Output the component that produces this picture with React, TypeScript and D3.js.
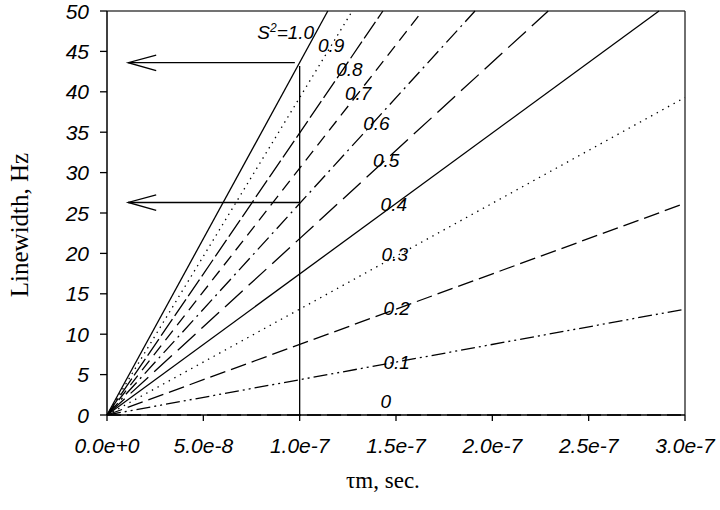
import React from "react";
import * as d3 from "d3";

const width = 720;
const height = 510;
const margin = { top: 11, right: 35, bottom: 95, left: 107 };

// order parameter values, one line per value
const orderParams = ["1.0", "0.9", "0.8", "0.7", "0.6", "0.5", "0.4", "0.3", "0.2", "0.1", "0"];
// where each line leaves the plot box (tau_m in s, linewidth in Hz); all start at the origin
const endTau = [1.146e-7, 1.273e-7, 1.432e-7, 1.637e-7, 1.91e-7, 2.29e-7, 2.865e-7, 3.0e-7, 3.0e-7, 3.0e-7, 3.0e-7];
const endWidth = [50, 50, 50, 50, 50, 50, 50, 39.3, 26.2, 13.1, 0];
const dashes = ["", "1.4,4.6", "20,4", "12,7", "16,5,2,5", "24,8", "", "1.4,5", "16,6", "14,4,2,4,2,4", "14,6"];

// label anchors (data units)
const labelTau = [0.78e-7, 1.095e-7, 1.19e-7, 1.235e-7, 1.33e-7, 1.38e-7, 1.42e-7, 1.425e-7, 1.435e-7, 1.435e-7, 1.42e-7];
const labelWidth = [46.5, 44.9, 42.0, 39.0, 35.3, 30.7, 25.2, 19.1, 12.4, 5.7, 0.9];

const xTicks = [0, 5e-8, 1e-7, 1.5e-7, 2e-7, 2.5e-7, 3e-7];
const xTickLabels = ["0.0e+0", "5.0e-8", "1.0e-7", "1.5e-7", "2.0e-7", "2.5e-7", "3.0e-7"];
const yTicks = [0, 5, 10, 15, 20, 25, 30, 35, 40, 45, 50];

// read-off guide at tau_m = 1e-7
const guideTau = 1e-7;
const guideTop = 43.2;
const arrowLevels = [43.6, 26.3];
const arrowEnds = [0.975e-7, 1e-7];
const arrowTipTau = 0.11e-7;

const x = d3.scaleLinear().domain([0, 3e-7]).range([margin.left, width - margin.right]);
const y = d3.scaleLinear().domain([0, 50]).range([height - margin.bottom, margin.top]);

const tickFont = "'Liberation Sans', Arial, sans-serif";
const serif = "'Liberation Serif', 'Times New Roman', serif";

export default function App() {
  const line = d3
    .line<[number, number]>()
    .x((d) => x(d[0]))
    .y((d) => y(d[1]));

  const x0 = x.range()[0];
  const x1 = x.range()[1];
  const y0 = y.range()[0];
  const y1 = y.range()[1];

  return (
    <svg
      width={width}
      height={height}
      style={{ position: "absolute", left: 0, top: 0, background: "#fff" }}
    >
      {/* frame */}
      <line x1={x0} x2={x1} y1={y1} y2={y1} stroke="#444" strokeWidth={1.5} />
      <line x1={x1} x2={x1} y1={y1} y2={y0} stroke="#222" strokeWidth={1.3} />

      {/* data lines */}
      {orderParams.map((p, i) => (
        <path
          key={p}
          d={line([
            [0, 0],
            [endTau[i], endWidth[i]],
          ]) as string}
          fill="none"
          stroke="#000"
          strokeWidth={1.3}
          strokeDasharray={dashes[i] || undefined}
        />
      ))}

      {/* guide lines and arrows */}
      <line x1={x(guideTau)} x2={x(guideTau)} y1={y(0)} y2={y(guideTop)} stroke="#000" strokeWidth={1.3} />
      {arrowLevels.map((lv, i) => {
        const tip = x(arrowTipTau);
        const yy = y(lv);
        return (
          <g key={i} stroke="#000" strokeWidth={1.3} fill="none">
            <line x1={tip} x2={x(arrowEnds[i])} y1={yy} y2={yy} />
            <polyline points={`${tip + 28},${yy - 7.5} ${tip},${yy} ${tip + 28},${yy + 8}`} />
          </g>
        );
      })}

      {/* labels */}
      {orderParams.map((p, i) => (
        <text
          key={p}
          x={x(labelTau[i])}
          y={y(labelWidth[i])}
          fontFamily={tickFont}
          fontStyle="italic"
          fontSize={19}
          fill="#000"
        >
          {i === 0 ? (
            <>
              S<tspan dy={-7} fontSize={12}>2</tspan>
              <tspan dy={7}>=1.0</tspan>
            </>
          ) : (
            p
          )}
        </text>
      ))}

      {/* axes */}
      <line x1={x0} x2={x0} y1={y0} y2={y1} stroke="#000" strokeWidth={1.5} />
      <line x1={x0} x2={x1} y1={y0} y2={y0} stroke="#000" strokeWidth={1.5} />
      {yTicks.map((t) => (
        <g key={t}>
          <line x1={x0 - 7} x2={x0} y1={y(t)} y2={y(t)} stroke="#000" strokeWidth={1.3} />
          <text
            x={x0 - 18}
            y={y(t)}
            dy="0.36em"
            textAnchor="end"
            fontFamily={tickFont}
            fontStyle="italic"
            fontSize={21}
          >
            {t}
          </text>
        </g>
      ))}
      {xTicks.map((t, i) => (
        <g key={t}>
          <line x1={x(t)} x2={x(t)} y1={y0} y2={y0 + 6} stroke="#000" strokeWidth={1.3} />
          <text
            x={x(t)}
            y={y0 + 38}
            textAnchor="middle"
            fontFamily={tickFont}
            fontStyle="italic"
            fontSize={21}
          >
            {xTickLabels[i]}
          </text>
        </g>
      ))}

      {/* axis titles */}
      <text
        transform={`translate(28,${(y0 + y1) / 2 + 12}) rotate(-90)`}
        textAnchor="middle"
        fontFamily={serif}
        fontSize={25}
      >
        Linewidth, Hz
      </text>
      <text x={383} y={488} textAnchor="middle" fontFamily={serif} fontSize={23}>
        τm, sec.
      </text>
    </svg>
  );
}
